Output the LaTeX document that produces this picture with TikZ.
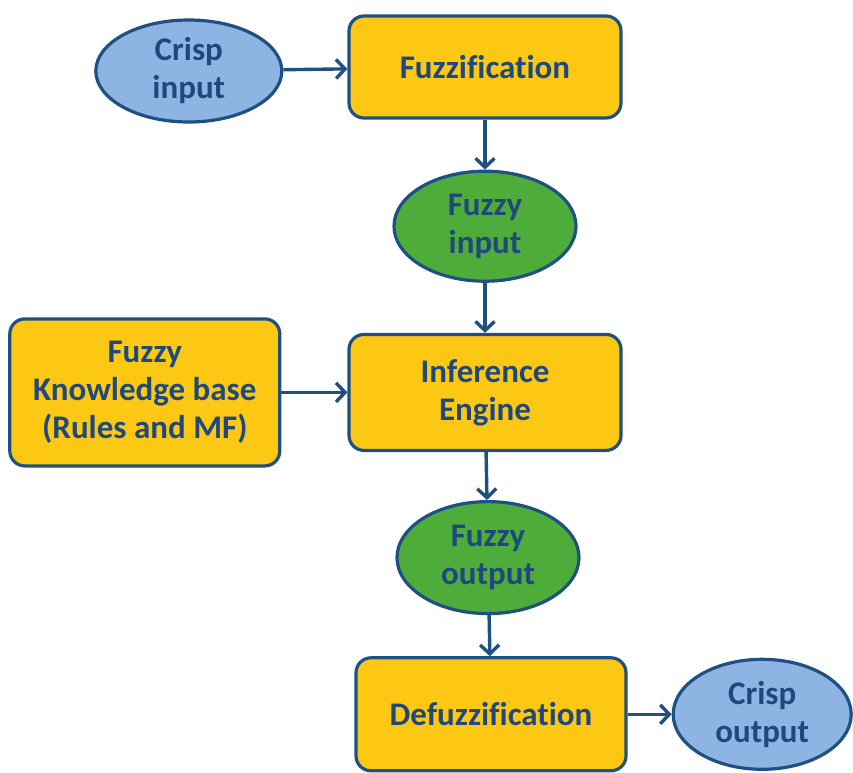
\documentclass[tikz,border=0pt]{standalone}
\usepackage{fontspec}
\setmainfont{Carlito}[Ligatures=NoCommon]
\usepackage{xcolor}
\usetikzlibrary{shapes.geometric, arrows.meta, positioning}

\definecolor{boxyellow}{HTML}{FCC814}
\definecolor{crispblue}{HTML}{8EB4E3}
\definecolor{fuzzygreen}{HTML}{4EAC3A}
\definecolor{edgeblue}{HTML}{1F5082}
\definecolor{textblue}{HTML}{1F497D}

\begin{document}
\begin{tikzpicture}[x=1pt, y=1pt,
    stage/.style={rectangle, rounded corners=15pt, draw=edgeblue, line width=3.2pt, fill=boxyellow, minimum width=272pt, minimum height=102pt, align=center, inner sep=2pt, font=\fontsize{33}{38}\selectfont\bfseries, text=textblue},
    crisp/.style={ellipse, draw=edgeblue, line width=3.2pt, fill=crispblue, minimum width=182pt, minimum height=106pt, align=center, inner sep=0pt, font=\fontsize{33}{38}\selectfont\bfseries, text=textblue},
    fuzzy/.style={crisp, fill=fuzzygreen, minimum height=110pt},
    flow/.style={-{Straight Barb[length=9pt, width=19pt]}, draw=edgeblue, line width=3.4pt}
  ]
    \useasboundingbox (0,0) rectangle (853,-772);

    % Nodes
    \node (fuz) [stage] at (485,-67) {Fuzzification};
    \node (cin) [crisp, left=64pt of fuz, yshift=-4pt, minimum width=186pt, minimum height=102pt] {Crisp\\input};
    \node (fin) [fuzzy, below=50pt of fuz] {Fuzzy\\input};
    \node (inf) [stage, below=50pt of fin, minimum height=116pt] {Inference\\Engine};
    \node (kb) [stage, left=66pt of inf, minimum width=270pt, minimum height=147pt] {Fuzzy\\Knowledge base\\(Rules and MF)};
    \node (fout) [fuzzy, below=48pt of inf, xshift=3pt, minimum height=112pt] {Fuzzy\\output};
    \node (def) [stage, below=41pt of fout, xshift=3pt, minimum width=270pt, minimum height=113pt] {Defuzzification};
    \node (cout) [crisp, right=44pt of def, minimum width=178pt, minimum height=110pt] {Crisp\\output};

    % Connections
    \draw [flow] (cin) -- (fuz);
    \draw [flow] (fuz) -- (fin);
    \draw [flow] (fin) -- (inf);
    \draw [flow] (kb) -- (inf);
    \draw [flow] (inf) -- (fout);
    \draw [flow] (fout) -- (def);
    \draw [flow] (def) -- (cout);

  \end{tikzpicture}
\end{document}
